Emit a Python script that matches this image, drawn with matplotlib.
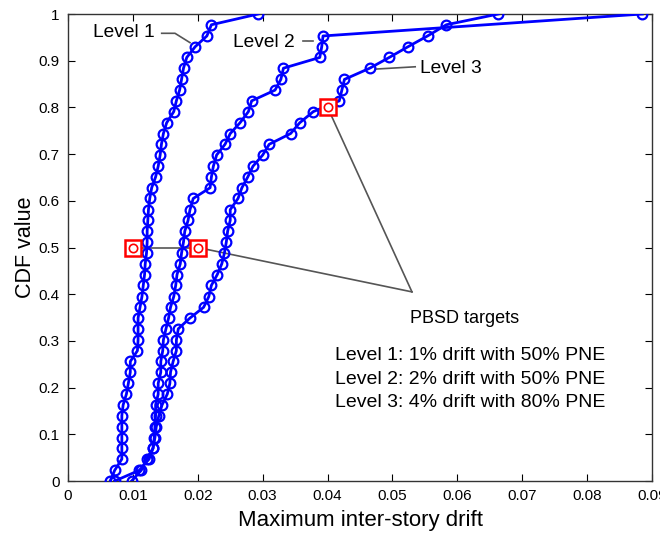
import numpy as np
import matplotlib.pyplot as plt

plt.rcParams['font.family'] = ['Liberation Sans', 'DejaVu Sans']

# empirical CDF of maximum inter-story drift for the three performance levels
cdf_13 = [0.000, 0.023, 0.047, 0.070, 0.093, 0.116, 0.140, 0.163, 0.186, 0.209,
          0.233, 0.256, 0.279, 0.302, 0.326, 0.349, 0.372, 0.395, 0.419, 0.442,
          0.465, 0.488, 0.512, 0.535, 0.558, 0.581, 0.605, 0.628, 0.651, 0.674,
          0.698, 0.721, 0.744, 0.767, 0.791, 0.814, 0.837, 0.860, 0.884, 0.907,
          0.930, 0.953, 0.977, 1.000]
cdf_2 = [0.000, 0.023, 0.047, 0.070, 0.093, 0.116, 0.140, 0.163, 0.186, 0.209,
         0.233, 0.256, 0.279, 0.302, 0.326, 0.349, 0.372, 0.395, 0.419, 0.442,
         0.465, 0.488, 0.512, 0.535, 0.558, 0.581, 0.605, 0.628, 0.651, 0.674,
         0.698, 0.721, 0.744, 0.767, 0.791, 0.814, 0.837, 0.860, 0.884, 0.907,
         0.930, 0.953, 1.000]

drift_level1 = [0.0065, 0.0072, 0.0083, 0.0083, 0.0083, 0.0083, 0.0083, 0.0085, 0.0090, 0.0093,
                0.0096, 0.0096, 0.0107, 0.0108, 0.0108, 0.0108, 0.0111, 0.0114, 0.0116, 0.0118,
                0.0119, 0.0121, 0.0122, 0.0122, 0.0123, 0.0124, 0.0126, 0.0129, 0.0135, 0.0139,
                0.0142, 0.0144, 0.0147, 0.0152, 0.0163, 0.0167, 0.0172, 0.0175, 0.0178, 0.0183,
                0.0196, 0.0214, 0.0221, 0.0293]
drift_level2 = [0.0098, 0.0113, 0.0121, 0.0131, 0.0133, 0.0134, 0.0135, 0.0135, 0.0139, 0.0139,
                0.0143, 0.0143, 0.0146, 0.0147, 0.0151, 0.0155, 0.0158, 0.0163, 0.0166, 0.0168,
                0.0173, 0.0175, 0.0178, 0.0180, 0.0185, 0.0188, 0.0193, 0.0219, 0.0221, 0.0224,
                0.0229, 0.0242, 0.0250, 0.0265, 0.0278, 0.0283, 0.0319, 0.0328, 0.0332, 0.0388,
                0.0391, 0.0393, 0.0885]
drift_level3 = [0.0072, 0.0110, 0.0125, 0.0131, 0.0134, 0.0136, 0.0140, 0.0145, 0.0153, 0.0157,
                0.0158, 0.0162, 0.0167, 0.0167, 0.0170, 0.0188, 0.0209, 0.0217, 0.0221, 0.0230,
                0.0237, 0.0241, 0.0244, 0.0246, 0.0250, 0.0250, 0.0262, 0.0268, 0.0277, 0.0285,
                0.0300, 0.0310, 0.0343, 0.0357, 0.0378, 0.0418, 0.0422, 0.0426, 0.0465, 0.0495,
                0.0524, 0.0554, 0.0583, 0.0663]

# PBSD targets (drift, probability of non-exceedance)
target_drift = [0.01, 0.02, 0.04]
target_pne = [0.5, 0.5, 0.8]

xticks = [0, 0.01, 0.02, 0.03, 0.04, 0.05, 0.06, 0.07, 0.08, 0.09]
xtick_labels = ['0', '0.01', '0.02', '0.03', '0.04', '0.05', '0.06', '0.07', '0.08', '0.09']
yticks = [0, 0.1, 0.2, 0.3, 0.4, 0.5, 0.6, 0.7, 0.8, 0.9, 1.0]
ytick_labels = ['0', '0.1', '0.2', '0.3', '0.4', '0.5', '0.6', '0.7', '0.8', '0.9', '1']

fig = plt.figure(figsize=(6.6, 5.39), dpi=100)
ax = fig.add_axes([0.103, 0.1076, 0.885, 0.8664])

blue = '#0000ff'
grey = '#555555'
style = dict(color=blue, lw=2.0, marker='o', ms=7, mfc='none', mec=blue, mew=1.6, zorder=3)
ax.plot(drift_level1, cdf_13, **style)
ax.plot(drift_level2, cdf_2, **style)
ax.plot(drift_level3, cdf_13, **style)

# leader lines from the PBSD label to the targets
hub = (0.0530, 0.405)
ax.plot([target_drift[2], hub[0]], [target_pne[2], hub[1]], color=grey, lw=1.2, zorder=2)
ax.plot([target_drift[1], hub[0]], [target_pne[1], hub[1]], color=grey, lw=1.2, zorder=2)
ax.plot([target_drift[0], target_drift[1]], [target_pne[0], target_pne[1]], color=grey, lw=1.2, zorder=2)

ax.plot(target_drift, target_pne, ls='none', marker='s', ms=12, mfc='white', mec='red', mew=1.8, zorder=4)
ax.plot(target_drift, target_pne, ls='none', marker='o', ms=6, mfc='white', mec='red', mew=1.2, zorder=5)

# curve labels with short leaders
ax.plot([0.01444, 0.01649, 0.0188], [0.9587, 0.9587, 0.9387], color=grey, lw=1.2)
ax.text(0.0039, 0.96, 'Level 1', fontsize=13.8, va='center', ha='left')
ax.plot([0.0362, 0.0378], [0.942, 0.942], color=grey, lw=1.2)
ax.text(0.0254, 0.94, 'Level 2', fontsize=13.8, va='center', ha='left')
ax.plot([0.0473, 0.0535], [0.882, 0.887], color=grey, lw=1.2)
ax.text(0.0542, 0.884, 'Level 3', fontsize=13.8, va='center', ha='left')

ax.text(0.0527, 0.349, 'PBSD targets', fontsize=13, va='center', ha='left')
ax.text(0.0412, 0.268, 'Level 1: 1% drift with 50% PNE', fontsize=14, va='center', ha='left')
ax.text(0.0412, 0.218, 'Level 2: 2% drift with 50% PNE', fontsize=14, va='center', ha='left')
ax.text(0.0412, 0.169, 'Level 3: 4% drift with 80% PNE', fontsize=14, va='center', ha='left')

ax.set_xlim(0, 0.09)
ax.set_ylim(0, 1)
ax.set_xticks(xticks)
ax.set_xticklabels(xtick_labels)
ax.set_yticks(yticks)
ax.set_yticklabels(ytick_labels)
ax.tick_params(direction='in', top=True, right=True, length=5, labelsize=11, pad=6)
for s in ax.spines.values():
    s.set_linewidth(1.0)
    s.set_color('#333333')

ax.set_xlabel('Maximum inter-story drift', fontsize=16, labelpad=5)
ax.set_ylabel('CDF value', fontsize=15.5, labelpad=2)

fig.savefig('out.png', dpi=100)
